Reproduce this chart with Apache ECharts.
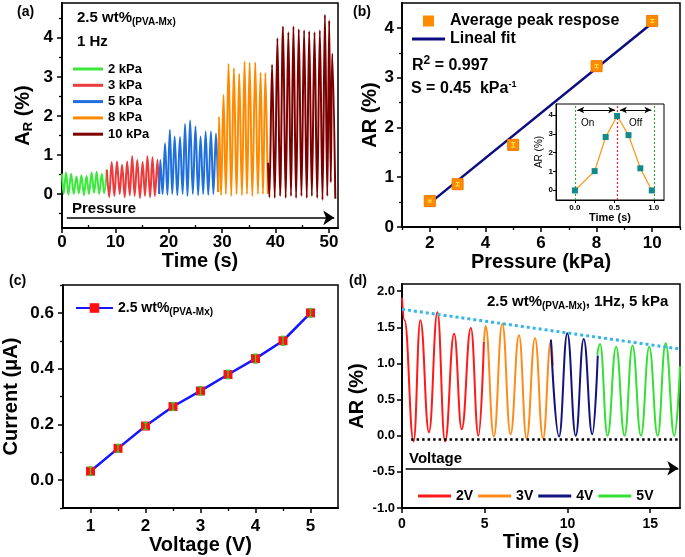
<!DOCTYPE html>
<html><head><meta charset="utf-8">
<script src="https://cdn.jsdelivr.net/npm/echarts@6/dist/echarts.min.js"></script>
<style>html,body{margin:0;padding:0;background:#fff}#c{width:685px;height:557px}</style>
</head><body><div id="c"></div>
<script>
// ---------- (a) time traces at different pressures ----------
const a2kPa = [[0,0.52],[0.3,0.0],[0.75,0.55],[1.2,-0.02],[1.7,0.52],[2.2,0.0],[2.7,0.45],[3.15,0.02],[3.65,0.48],[4.1,-0.03],[4.6,0.47],[5.05,0.0],[5.55,0.55],[6.0,0.03],[6.5,0.57],[6.95,0.0],[7.45,0.52],[7.9,0.02],[8.4,0.62]];
const a3kPa = [[8.4,0.62],[8.85,-0.08],[9.3,0.82],[9.8,-0.05],[10.3,0.83],[10.8,0.0],[11.25,0.75],[11.75,-0.08],[12.2,0.83],[12.7,-0.03],[13.15,0.97],[13.6,-0.05],[14.1,0.87],[14.6,-0.1],[15.1,0.82],[15.55,-0.05],[16.0,0.97],[16.5,-0.08],[16.95,0.94],[17.4,-0.05],[17.9,0.88],[18.2,0.0]];
const a5kPa = [[18.2,0.0],[18.4,0.87],[18.85,0.0],[19.3,1.3],[19.75,-0.02],[20.2,1.64],[20.65,0.0],[21.1,1.47],[21.6,-0.03],[22.1,1.46],[22.6,0.0],[23.05,1.79],[23.5,-0.05],[24.0,1.88],[24.5,0.0],[25.0,1.73],[25.5,-0.03],[25.95,1.47],[26.45,0.0],[26.9,1.6],[27.4,-0.02],[27.9,1.6],[28.35,0.0],[28.85,1.55],[29.25,0.05]];
const a8kPa = [[29.25,0.05],[29.4,1.98],[29.8,-0.03],[30.25,2.54],[30.7,0.0],[31.2,3.33],[31.7,-0.05],[32.2,3.22],[32.7,0.0],[33.2,3.08],[33.7,-0.03],[34.2,3.39],[34.65,0.0],[35.15,3.36],[35.65,-0.05],[36.2,3.37],[36.7,0.0],[37.2,3.11],[37.65,0.0],[38.1,3.1],[38.55,0.0]];
const a10kPa = [[38.6,0.8],[38.85,-0.08],[39.35,3.31],[39.85,-0.1],[40.35,3.99],[40.85,-0.05],[41.4,4.29],[41.9,-0.1],[42.4,4.14],[42.9,-0.05],[43.35,4.29],[43.85,-0.1],[44.35,4.22],[44.85,-0.05],[45.35,4.19],[45.85,-0.1],[46.3,4.17],[46.8,-0.05],[47.3,4.14],[47.8,-0.1],[48.3,4.19],[48.8,-0.15],[49.25,4.59],[49.7,-0.05],[50.05,4.44],[50.35,0.3],[50.6,3.6],[51.2,-0.12]];
const aXLabels = [0,10,20,30,40,50];
const aXMinor = [5,15,25,35,45];
const aYLabels = [0,1,2,3,4];
const aYMinor = [-0.5,0.5,1.5,2.5,3.5,4.5];
const aArrowX = [0.9,51.0];
const aArrowY = -0.61;

// ---------- (b) peak response vs pressure ----------
const bPressure = [2,3,5,8,10];
const bPeak = [0.52,0.86,1.65,3.23,4.14];
const bErr = [0.02,0.035,0.045,0.03,0.03];
const bFitX = [2,10];
const bFitY = [0.48,4.1];
const bXLabels = [2,4,6,8,10];
const bXMinor = [1,3,5,7,9,11];
const bYLabels = [0,1,2,3,4];
const bYMinor = [0.5,1.5,2.5,3.5];
// inset
const insetTime = [0,0.25,0.39,0.535,0.68,0.83,0.975];
const insetAR = [-0.02,1.01,2.83,3.95,2.93,1.16,-0.02];
const insetXLabels = [0,0.5,1.0];
const insetYLabels = [0,1,2,3,4];
const insetGuides = [0,0.54,1.0];
const insetArrowY = 4.27;
const insetArrows = [[0.03,0.51],[0.57,0.97]];

// ---------- (c) current vs voltage ----------
const cVoltage = [1,1.5,2,2.5,3,3.5,4,4.5,5];
const cCurrent = [0.032,0.114,0.194,0.264,0.32,0.379,0.436,0.5,0.6];
const cErr = [0.015,0.014,0.012,0.014,0.015,0.015,0.016,0.016,0.015];
const cXLabels = [1,2,3,4,5];
const cXMinor = [1.5,2.5,3.5,4.5];
const cYLabels = [0,0.2,0.4,0.6];
const cYMinor = [-0.1,0.1,0.3,0.5,0.7];

// ---------- (d) traces at different voltages ----------
const d2V = [[0,1.91],[0.15,1.6],[0.7,-0.08],[1.11,1.6],[1.63,0.05],[2.14,1.71],[2.6,-0.08],[3.15,1.41],[3.61,0.09],[4.16,1.49],[4.62,0.0],[4.95,1.3]];
const d3V = [[4.95,1.3],[5.05,1.52],[5.55,-0.01],[6.06,1.55],[6.56,0.02],[7.07,1.39],[7.53,-0.04],[8.04,1.35],[8.52,-0.04],[9.0,1.31],[9.12,0.97]];
const d4V = [[9.0,1.33],[9.49,-0.01],[9.99,1.42],[10.5,0.0],[10.98,1.34],[11.5,0.02],[11.83,1.11]];
const d5V = [[11.8,1.12],[11.97,1.27],[12.42,0.0],[12.94,1.23],[13.45,0.0],[13.93,1.25],[14.44,0.0],[14.94,1.23],[15.45,0.0],[15.93,1.28],[16.46,0.0],[16.8,0.96]];
const dTrendT = [0,16.8];
const dTrendAR = [1.75,1.2];
const dBaseT = [0.55,16.8];
const dBaseAR = -0.05;
const dArrowT = [0.22,16.7];
const dArrowAR = -0.45;
const dXLabels = [0,5,10,15];
const dYLabels = [-1,-0.5,0,0.5,1,1.5,2];

const FONT = '"Liberation Sans", Arial, Helvetica, sans-serif';

function mainAxis(o) {
  return {
    type: 'value', gridIndex: o.grid, min: o.min, max: o.max, position: o.pos,
    axisLine: { show: true, onZero: false, lineStyle: { color: '#000', width: o.lw || 1.8 } },
    axisTick: { show: true, inside: !!o.tickInside, length: o.tickLen || 5, lineStyle: { color: '#000', width: o.tw || 1.5 }, customValues: o.ticks },
    axisLabel: { show: true, customValues: o.labels, fontSize: o.fs, fontWeight: 'bold', fontFamily: FONT, color: '#000', margin: o.margin,
      formatter: o.fmt || (v => String(v)) },
    splitLine: { show: false },
    name: o.name, nameLocation: 'middle', nameGap: o.nameGap,
    nameTextStyle: Object.assign({ fontSize: o.nfs || 20, fontWeight: 'bold', fontFamily: FONT, color: '#000' }, o.nts || {})
  };
}
function minorAxis(o) {
  return {
    type: 'value', gridIndex: o.grid, min: o.min, max: o.max, position: o.pos,
    axisLine: { show: false, onZero: false }, axisLabel: { show: false }, splitLine: { show: false },
    axisTick: { show: true, inside: !!o.inside, length: o.len || 3, lineStyle: { color: '#000', width: 1.3 }, customValues: o.ticks }
  };
}
function errBar(color, half, lw) {
  return function (params, api) {
    const x = api.value(0), lo = api.value(1), hi = api.value(2);
    const p1 = api.coord([x, lo]), p2 = api.coord([x, hi]);
    const st = { stroke: color, lineWidth: lw };
    return { type: 'group', children: [
      { type: 'line', shape: { x1: p1[0], y1: p1[1], x2: p2[0], y2: p2[1] }, style: st },
      { type: 'line', shape: { x1: p1[0] - half, y1: p1[1], x2: p1[0] + half, y2: p1[1] }, style: st },
      { type: 'line', shape: { x1: p2[0] - half, y1: p2[1], x2: p2[0] + half, y2: p2[1] }, style: st }
    ]};
  };
}
const pairs = (xs, ys) => xs.map((x, i) => [x, ys[i]]);

const grids = [
  { left: 62, top: 3, width: 276, height: 225 },
  { left: 402, top: 3, width: 278, height: 224 },
  { left: 556, top: 104, width: 108, height: 96 },
  { left: 62, top: 285, width: 276, height: 223 },
  { left: 402, top: 284, width: 278, height: 224 }
].map(g => Object.assign({ show: true, borderColor: '#000', borderWidth: 1.5, backgroundColor: '#fff', containLabel: false }, g));
grids[2].borderWidth = 1;

const xAxes = [
  mainAxis({ grid: 0, min: 0, max: 51.7, pos: 'bottom', ticks: aXLabels, labels: aXLabels, fs: 17, margin: 6, name: 'Time (s)', nameGap: 17 }),
  minorAxis({ grid: 0, min: 0, max: 51.7, pos: 'bottom', ticks: aXMinor, inside: true }),
  mainAxis({ grid: 1, min: 1, max: 11, pos: 'bottom', ticks: bXLabels, labels: bXLabels, fs: 17, margin: 8, name: 'Pressure (kPa)', nameGap: 20 }),
  minorAxis({ grid: 1, min: 1, max: 11, pos: 'bottom', ticks: bXMinor }),
  mainAxis({ grid: 2, min: -0.24, max: 1.13, pos: 'bottom', ticks: insetXLabels, labels: insetXLabels, fs: 8, margin: 4, lw: 1, tickLen: 3, tw: 1, fmt: v => v.toFixed(1), name: 'Time (s)', nameGap: 6, nfs: 11 }),
  mainAxis({ grid: 3, min: 0.5, max: 5.5, pos: 'bottom', ticks: cXLabels, labels: cXLabels, fs: 17, margin: 10, name: 'Voltage (V)', nameGap: 26 }),
  minorAxis({ grid: 3, min: 0.5, max: 5.5, pos: 'bottom', ticks: cXMinor }),
  mainAxis({ grid: 4, min: 0, max: 16.8, pos: 'bottom', ticks: dXLabels, labels: dXLabels, fs: 14, margin: 9, name: 'Time (s)', nameGap: 24 }),
  minorAxis({ grid: 4, min: 0, max: 16.8, pos: 'bottom', ticks: [] })
];
const yAxes = [
  mainAxis({ grid: 0, min: -0.87, max: 4.89, pos: 'left', ticks: aYLabels, labels: aYLabels, fs: 17, margin: 9, name: '{b|A}{s|R}{b| (%)}', nameGap: 27,
    nts: { rich: { b: { fontSize: 20, fontWeight: 'bold', fontFamily: FONT, color: '#000' }, s: { fontSize: 13, fontWeight: 'bold', fontFamily: FONT, color: '#000', padding: [10, 0, 0, 0] } } } }),
  minorAxis({ grid: 0, min: -0.87, max: 4.89, pos: 'left', ticks: aYMinor }),
  mainAxis({ grid: 1, min: 0, max: 4.5, pos: 'left', ticks: bYLabels, labels: bYLabels, fs: 17, margin: 8, name: 'AR (%)', nameGap: 22 }),
  minorAxis({ grid: 1, min: 0, max: 4.5, pos: 'left', ticks: bYMinor }),
  mainAxis({ grid: 2, min: -0.53, max: 4.59, pos: 'left', ticks: insetYLabels, labels: insetYLabels, fs: 8, margin: 3, lw: 1, tickLen: 3, tw: 1, name: 'AR (%)', nameGap: 9, nfs: 10, nts: { fontWeight: 'normal' } }),
  mainAxis({ grid: 3, min: -0.1, max: 0.7, pos: 'left', ticks: cYLabels, labels: cYLabels, fs: 17, margin: 9, fmt: v => v.toFixed(1), name: 'Current (\u03BCA)', nameGap: 42 }),
  minorAxis({ grid: 3, min: -0.1, max: 0.7, pos: 'left', ticks: cYMinor }),
  mainAxis({ grid: 4, min: -1, max: 2.1, pos: 'left', ticks: dYLabels, labels: dYLabels, fs: 13, margin: 7, fmt: v => v.toFixed(1), name: 'AR (%)', nameGap: 35 }),
  minorAxis({ grid: 4, min: -1, max: 2.1, pos: 'left', ticks: [] })
];

function lineS(name, data, color, xi, yi, extra) {
  return Object.assign({ type: 'line', name, data, xAxisIndex: xi, yAxisIndex: yi, symbol: 'none', smooth: 0.35, smoothMonotone: 'x',
    lineStyle: { color, width: 2 }, itemStyle: { color }, z: 3 }, extra || {});
}

const series = [
  lineS('2 kPa', a2kPa, '#3de83d', 0, 0, {
    markLine: { silent: true, symbol: ['none', 'arrow'], symbolSize: 11, label: { show: false },
      lineStyle: { color: '#000', width: 1.6, type: 'solid' },
      data: [[{ coord: [aArrowX[0], aArrowY] }, { coord: [aArrowX[1], aArrowY] }]] } }),
  lineS('3 kPa', a3kPa, '#ec3b3b', 0, 0),
  lineS('5 kPa', a5kPa, '#1f6fdc', 0, 0),
  lineS('8 kPa', a8kPa, '#ff8a00', 0, 0),
  lineS('10 kPa', a10kPa, '#7d0000', 0, 0),

  { type: 'line', name: 'Lineal fit', data: pairs(bFitX, bFitY), xAxisIndex: 2, yAxisIndex: 2, symbol: 'none',
    lineStyle: { color: '#0c0c80', width: 2.5 }, itemStyle: { color: '#0c0c80' }, z: 3 },
  { type: 'scatter', name: 'Average peak respose', data: pairs(bPressure, bPeak), xAxisIndex: 2, yAxisIndex: 2, symbol: 'rect', symbolSize: 11,
    itemStyle: { color: '#ff8c00', borderColor: '#f07800', borderWidth: 1, opacity: 1 }, z: 4 },
  { type: 'custom', name: 'bErr', xAxisIndex: 2, yAxisIndex: 2, data: bPressure.map((x, i) => [x, bPeak[i] - bErr[i], bPeak[i] + bErr[i]]),
    renderItem: errBar('#ffe14d', 2, 1.1), encode: { x: 0, y: [1, 2] }, z: 5, silent: true },

  { type: 'line', name: 'inset', data: pairs(insetTime, insetAR), xAxisIndex: 4, yAxisIndex: 4, symbol: 'rect', symbolSize: 6,
    lineStyle: { color: '#ff9a1a', width: 1.3 }, itemStyle: { color: '#138a8a' }, z: 6,
    markLine: { silent: true, label: { show: false }, symbol: ['none', 'none'],
      data: [
        { xAxis: insetGuides[0], lineStyle: { color: '#3f9a3f', type: [2, 2], width: 1.2 } },
        { xAxis: insetGuides[1], lineStyle: { color: '#e02020', type: [2, 2], width: 1.2 } },
        { xAxis: insetGuides[2], lineStyle: { color: '#3f9a3f', type: [2, 2], width: 1.2 } },
        [{ coord: [insetArrows[0][0], insetArrowY], symbol: 'arrow', lineStyle: { color: '#000', width: 1, type: 'solid' } }, { coord: [insetArrows[0][1], insetArrowY], symbol: 'arrow' }],
        [{ coord: [insetArrows[1][0], insetArrowY], symbol: 'arrow', lineStyle: { color: '#000', width: 1, type: 'solid' } }, { coord: [insetArrows[1][1], insetArrowY], symbol: 'arrow' }]
      ], symbolSize: [5, 7] } },

  { type: 'line', name: 'cur', data: pairs(cVoltage, cCurrent), xAxisIndex: 5, yAxisIndex: 5, symbol: 'rect', symbolSize: 9,
    lineStyle: { color: '#1515ff', width: 2.5 }, itemStyle: { color: '#ff1010' }, z: 4 },
  { type: 'custom', name: 'cErr', xAxisIndex: 5, yAxisIndex: 5, data: cVoltage.map((x, i) => [x, cCurrent[i] - cErr[i], cCurrent[i] + cErr[i]]),
    renderItem: errBar('#30d030', 2, 1.3), encode: { x: 0, y: [1, 2] }, z: 5, silent: true },

  lineS('2V', d2V, '#ff1a1a', 7, 7, { smooth: 0.45,
    markLine: { silent: true, label: { show: false },
      data: [
        [{ coord: [dTrendT[0], dTrendAR[0]], symbol: 'none', lineStyle: { color: '#35b6ea', width: 3, type: [3, 3] } }, { coord: [dTrendT[1], dTrendAR[1]], symbol: 'none' }],
        [{ coord: [dBaseT[0], dBaseAR], symbol: 'none', lineStyle: { color: '#000', width: 2.5, type: [2.5, 3] } }, { coord: [dBaseT[1], dBaseAR], symbol: 'none' }],
        [{ coord: [dArrowT[0], dArrowAR], symbol: 'none', lineStyle: { color: '#000', width: 1.6, type: 'solid' } }, { coord: [dArrowT[1], dArrowAR], symbol: 'arrow', symbolSize: 11 }]
      ] } }),
  lineS('3V', d3V, '#ff8c1a', 7, 7, { smooth: 0.45 }),
  lineS('4V', d4V, '#141480', 7, 7, { smooth: 0.45 }),
  lineS('5V', d5V, '#33e033', 7, 7, { smooth: 0.45 })
];

const legendText = { fontWeight: 'bold', fontFamily: FONT, color: '#000' };
const legends = [
  { orient: 'vertical', left: 68, top: 56, itemWidth: 30, itemHeight: 3, itemGap: 0.3, icon: 'rect',
    data: ['2 kPa', '3 kPa', '5 kPa', '8 kPa', '10 kPa'], textStyle: Object.assign({ fontSize: 13, lineHeight: 16 }, legendText), itemStyle: { borderWidth: 0 } },
  { orient: 'vertical', left: 407, top: 7, itemWidth: 33, itemHeight: 11, itemGap: 0,
    data: [
      { name: 'Average peak respose', icon: 'path://M0,5.5L0.01,5.5Z M11,0L22,0L22,11L11,11Z M32.99,5.5L33,5.5Z' },
      { name: 'Lineal fit', icon: 'path://M0,4L33,4L33,7L0,7Z M0,0L0.01,0Z M0,11L0.01,11Z' }
    ], textStyle: Object.assign({ fontSize: 16, lineHeight: 18 }, legendText), itemStyle: { borderWidth: 0 } },
  { left: 70, top: 296, itemWidth: 37, itemHeight: 12, data: ['cur'],
    formatter: () => '{b|2.5 wt%}{s|(PVA-Mx)}',
    textStyle: Object.assign({ fontSize: 14, rich: { b: Object.assign({ fontSize: 14 }, legendText), s: Object.assign({ fontSize: 10, padding: [8, 0, 0, 0] }, legendText) } }, legendText) },
  { orient: 'horizontal', left: 413, top: 483, itemWidth: 33, itemHeight: 3, itemGap: 5, icon: 'rect',
    data: ['2V', '3V', '4V', '5V'], textStyle: Object.assign({ fontSize: 14, lineHeight: 16 }, legendText), itemStyle: { borderWidth: 0 } }
];

function txt(left, top, text, size, rich, extra) {
  return { type: 'text', left, top, z: 100, silent: true,
    style: Object.assign({ text, fontSize: size, fontWeight: 'bold', fontFamily: FONT, fill: '#000', rich: rich || undefined }, extra || {}) };
}
const subRich = (big, small, shift) => ({
  b: { fontSize: big, fontWeight: 'bold', fontFamily: FONT, fill: '#000' },
  s: { fontSize: small, fontWeight: 'bold', fontFamily: FONT, fill: '#000', padding: [shift, 0, 0, 0] },
  u: { fontSize: small, fontWeight: 'bold', fontFamily: FONT, fill: '#000', padding: [0, 0, shift, 0] }
});

const graphics = [
  txt(17, 5, '(a)', 14), txt(353, 5, '(b)', 14), txt(9, 274, '(c)', 14), txt(349, 274, '(d)', 14),
  txt(77, 10, '{b|2.5 wt%}{s|(PVA-Mx)}', 15, subRich(15, 10, 9)),
  txt(77, 34, '1 Hz', 15),
  txt(72, 201, 'Pressure', 15),
  txt(412, 55, '{b|R}{u|2}{b| = 0.997}', 16, subRich(16, 12, 9)),
  txt(411, 80, '{b|S = 0.45  kPa}{u|-1}', 16, subRich(16, 9, 9)),
  txt(581, 118, 'On', 10, null, { fontWeight: 'normal' }),
  txt(629, 118, 'Off', 10, null, { fontWeight: 'normal' }),
  txt(487, 294, '{b|2.5 wt%}{s|(PVA-Mx)}{b|, 1Hz, 5 kPa}', 15, subRich(15, 10, 9)),
  txt(409, 451, 'Voltage', 15)
];

const chart = echarts.init(document.getElementById('c'), null, { renderer: 'canvas' });
chart.setOption({
  backgroundColor: '#fff', animation: false,
  grid: grids, xAxis: xAxes, yAxis: yAxes, series, legend: legends, graphic: graphics
});
</script></body></html>
